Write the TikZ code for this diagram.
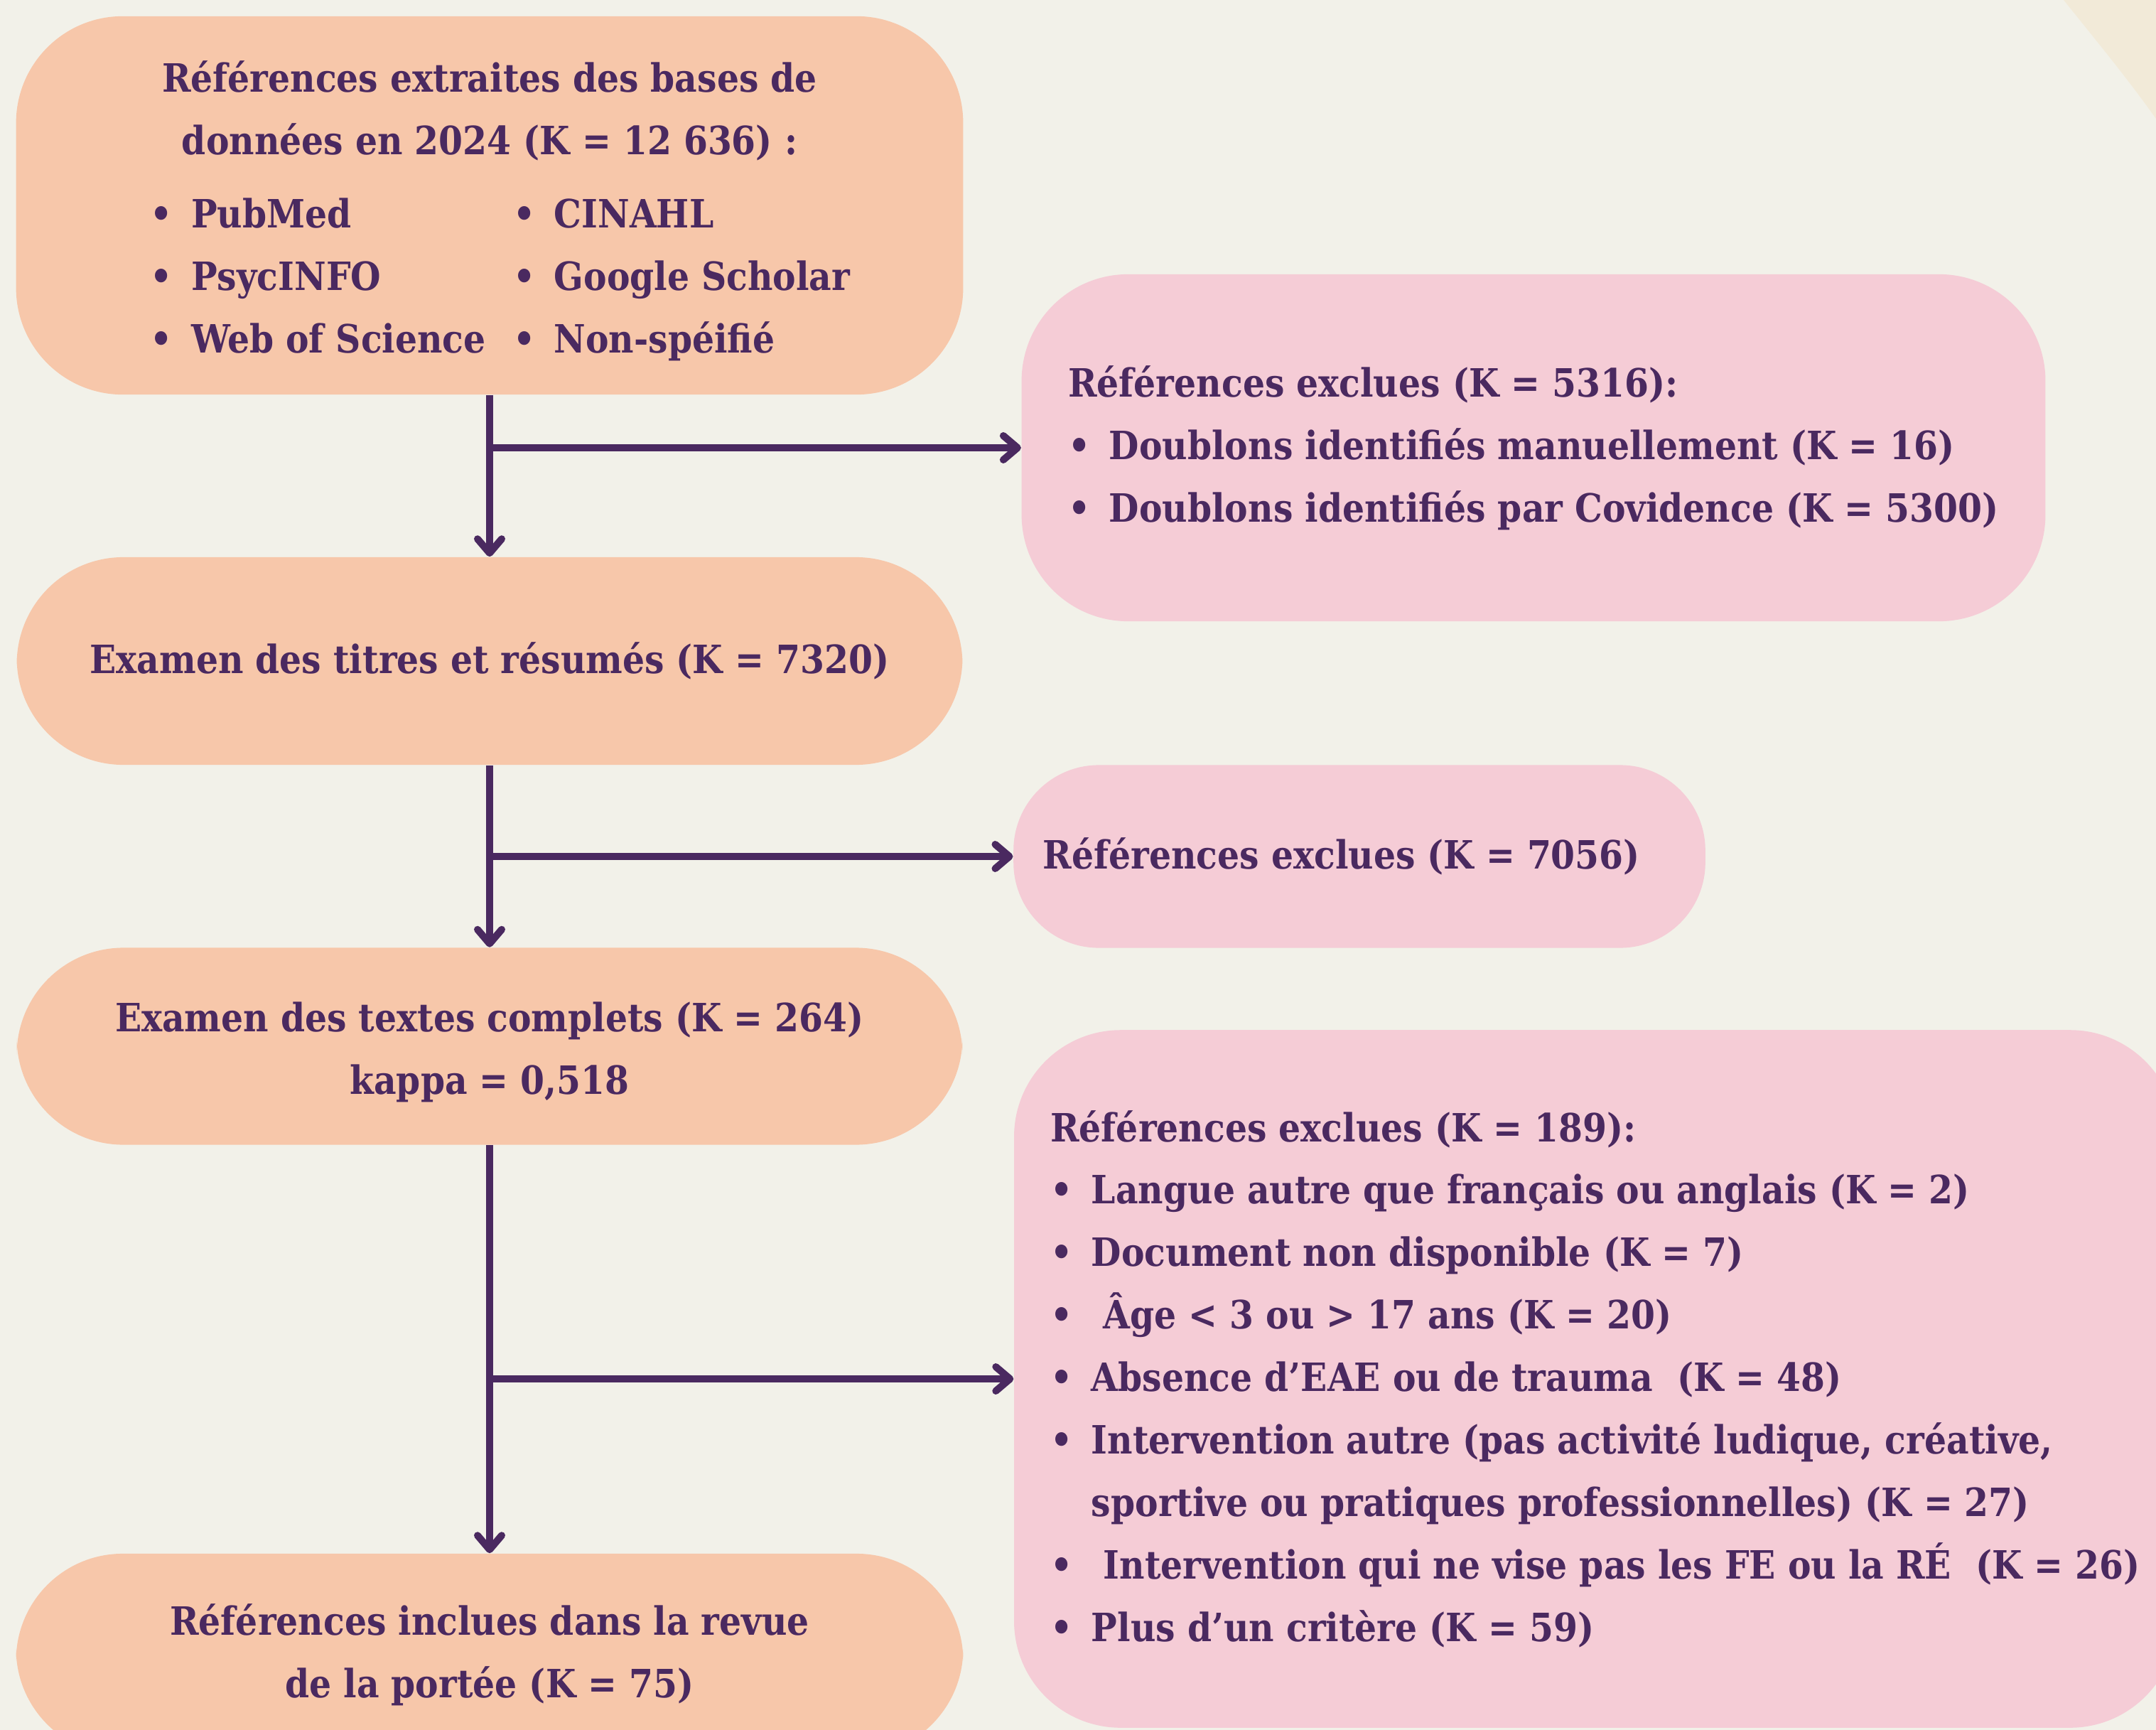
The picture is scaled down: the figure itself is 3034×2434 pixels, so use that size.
\documentclass[tikz,border=0pt]{standalone}
\usepackage{fontspec}
\setmainfont[FakeStretch=0.89]{DejaVu Serif Bold}
\usetikzlibrary{arrows.meta}

\definecolor{fond}{HTML}{F2F1E9}
\definecolor{coin}{HTML}{F2EAD8}
\definecolor{peche}{HTML}{F7C7AA}
\definecolor{rose}{HTML}{F5CCD6}
\definecolor{violet}{HTML}{4A2960}

\newcommand{\puce}{\makebox[1.05em][l]{\textbullet}}

\begin{document}
\begin{tikzpicture}[x=0.01cm,y=-0.01cm,
  boite/.style={rounded corners=1.5cm, inner sep=0pt, text=violet,
    font=\fontsize{15.6pt}{25pt}\selectfont},
  etape/.style={boite, fill=peche, align=center},
  exclu/.style={boite, fill=rose, align=left},
  fleche/.style={draw=violet, line width=0.1cm,
    -{Straight Barb[length=0.2cm, width=0.34cm, round]}}]

\useasboundingbox (0,0) rectangle (3034,2434);
\fill[fond] (0,0) rectangle (3034,2434);
\fill[coin] (2904,0) .. controls (2948,55) and (2992,108) .. (3034,167) -- (3034,0) -- cycle;

% colonne de gauche
\node[etape, minimum width=13.32cm, minimum height=5.32cm] (refs) at (689,289)
  {\rule{0pt}{21pt}Références extraites des bases de\\
   données en 2024 (K = 12 636) :\\[8.3pt]
   \hspace*{0.3cm}\begin{tabular}{@{}l@{\hspace{0.7em}}l@{}}
   \puce PubMed & \puce CINAHL\\
   \puce PsycINFO & \puce Google Scholar\\
   \puce Web of Science & \puce Non-spéifié
   \end{tabular}};
\node[etape, minimum width=13.3cm, minimum height=2.92cm] (titres) at (689,930)
  {Examen des titres et résumés (K = 7320)};
\node[etape, minimum width=13.3cm, minimum height=2.77cm] (textes) at (689,1472)
  {\rule{0pt}{16.4pt}Examen des textes complets (K = 264)\\ kappa = 0,518};
\node[etape, minimum width=13.32cm, minimum height=2.84cm] (inclues) at (689,2328)
  {Références inclues dans la revue\\ de la portée (K = 75)};

% colonne de droite
\node[exclu, minimum width=14.4cm, minimum height=4.88cm] (excl1) at (2158,630)
  {Références exclues (K = 5316):\\
   \puce Doublons identifiés manuellement (K = 16)\\
   \puce Doublons identifiés par Covidence (K = 5300)};
\node[exclu, rounded corners=1.2cm, minimum width=9.73cm, minimum height=2.57cm] (excl2) at (1913,1205)
  {Références exclues (K = 7056)\hspace*{0.5cm}};
\node[exclu, minimum width=16.35cm, minimum height=9.81cm] (excl3) at (2245,1940)
  {Références exclues (K = 189):\\
   \puce Langue autre que français ou anglais (K = 2)\\
   \puce Document non disponible (K = 7)\\
   \puce\ Âge < 3 ou > 17 ans (K = 20)\\
   \puce Absence d’EAE ou de trauma~ (K = 48)\\
   \puce Intervention autre (pas activité ludique, créative,\\
   \hphantom{\puce}sportive ou pratiques professionnelles) (K = 27)\\
   \puce\ Intervention qui ne vise pas les FE ou la RÉ~ (K = 26)\\
   \puce Plus d’un critère (K = 59)};

% fleches
\draw[fleche] (refs.south) -- (titres.north);
\draw[fleche] (refs.south |- excl1.west) -- (excl1.west);
\draw[fleche] (titres.south) -- (textes.north);
\draw[fleche] (titres.south |- excl2.west) -- (excl2.west);
\draw[fleche] (textes.south) -- (inclues.north);
\draw[fleche] (textes.south |- excl3.west) -- (excl3.west);

\end{tikzpicture}
\end{document}
